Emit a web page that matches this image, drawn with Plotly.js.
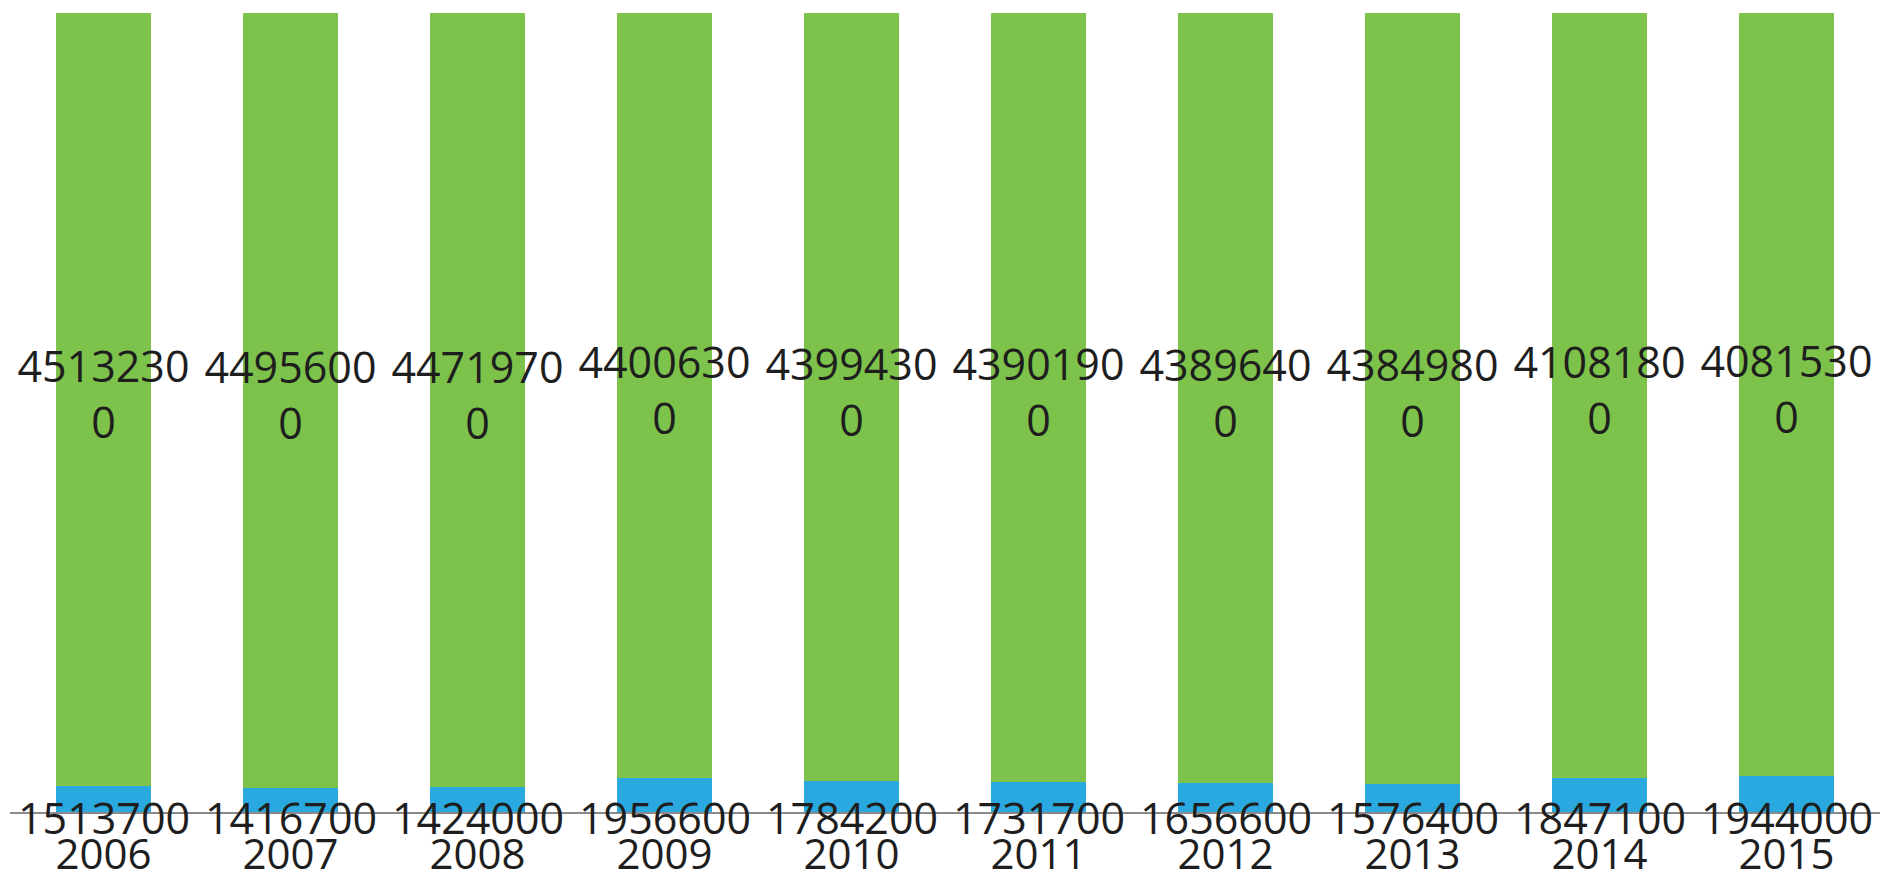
<!DOCTYPE html>
<html>
<head>
<meta charset="utf-8">
<script src="https://cdn.plot.ly/plotly-3.0.1.min.js"></script>
<style>html,body{margin:0;padding:0;background:#fff;}#chart{width:1882px;height:876px;}</style>
</head>
<body>
<div id="chart"></div>
<script>
var years = ['2006','2007','2008','2009','2010','2011','2012','2013','2014','2015'];
var blueValues = [1513700, 1416700, 1424000, 1956600, 1784200, 1731700, 1656600, 1576400, 1847100, 1944000];
var greenValues = [45132300, 44956000, 44719700, 44006300, 43994300, 43901900, 43896400, 43849800, 41081800, 40815300];

var GREEN = '#7DC24B';
var BLUE = '#2AA9E0';
var TXT = '#1e1e1e';
var FONT = 'Open Sans, Liberation Sans, sans-serif';

function wrapLabel(v) {
  var s = String(v);
  return s.slice(0, -1) + '<br>' + s.slice(-1);
}

var bluePct = blueValues.map(function (b, i) { return 100 * b / (b + greenValues[i]); });
var greenMid = greenValues.map(function (g, i) { return bluePct[i] + (100 - bluePct[i]) / 2; });

var traces = [
  {
    type: 'bar', name: 'blue', x: years, y: blueValues,
    marker: {color: BLUE, line: {width: 0}}, hoverinfo: 'x+y'
  },
  {
    type: 'bar', name: 'green', x: years, y: greenValues,
    marker: {color: GREEN, line: {width: 0}}, hoverinfo: 'x+y'
  },
  {
    type: 'scatter', mode: 'text', x: years, y: greenMid,
    text: greenValues.map(wrapLabel), textposition: 'middle center',
    textfont: {family: FONT, size: 43, color: TXT}, hoverinfo: 'skip', showlegend: false
  }
];

var annotations = years.map(function (yr, i) {
  return {
    x: i, y: 0, xref: 'x', yref: 'y', text: String(blueValues[i]),
    showarrow: false, xanchor: 'center', yanchor: 'middle', yshift: -5,
    font: {family: FONT, size: 43, color: TXT}
  };
});

var layout = {
  width: 1882, height: 876,
  margin: {l: 10, r: 2, t: 13, b: 64},
  paper_bgcolor: '#ffffff', plot_bgcolor: '#ffffff',
  barmode: 'stack', barnorm: 'percent', bargap: 0.49,
  showlegend: false,
  xaxis: {
    type: 'category', range: [-0.5, 9.5], showgrid: false, zeroline: false,
    showline: true, linecolor: '#8a8a8a', linewidth: 2, ticks: '',
    ticklabelstandoff: 5,
    tickfont: {family: FONT, size: 42, color: TXT}, fixedrange: true
  },
  yaxis: {
    range: [0, 100], showgrid: false, zeroline: false, showline: false,
    showticklabels: false, ticks: '', fixedrange: true
  },
  annotations: annotations
};

Plotly.newPlot('chart', traces, layout, {displayModeBar: false, staticPlot: true});
</script>
</body>
</html>
